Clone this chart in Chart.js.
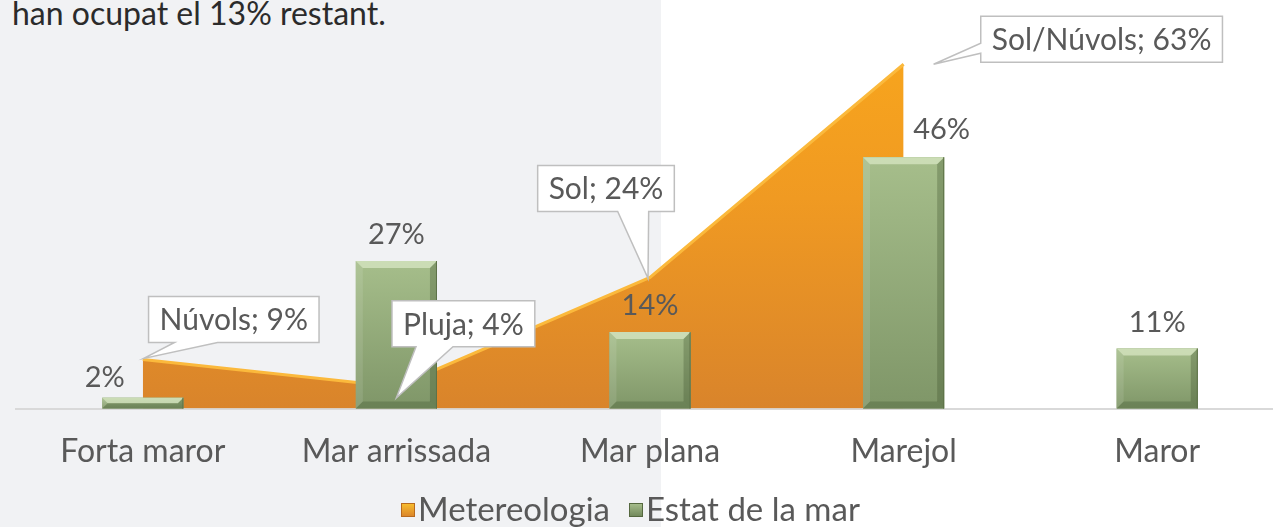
<!DOCTYPE html>
<html>
<head>
<meta charset="utf-8">
<script src="https://cdn.jsdelivr.net/npm/chart.js@4.4.1/dist/chart.umd.min.js"></script>
<style>
  body { margin: 0; width: 1273px; height: 527px; overflow: hidden; background: #fff; position: relative; font-family: Lato, sans-serif; }
  #bg { position: absolute; left: 0; top: 0; width: 661px; height: 527px; background: #f1f2f4; }
  #note { position: absolute; left: 12px; top: -3px; font-size: 32px; line-height: 32px; color: #2b2b2b; white-space: nowrap; }
  #wrap { position: absolute; left: 0; top: 0; width: 1300px; height: 527px; }
</style>
</head>
<body>
<div id="bg"></div>
<div id="note">han ocupat el 13% restant.</div>
<div id="wrap"><canvas id="chart"></canvas></div>
<script>
const categories = ['Forta maror', 'Mar arrissada', 'Mar plana', 'Marejol', 'Maror'];
const seriesNames = ['Metereologia', 'Estat de la mar'];
const weatherValues = [9, 4, 24, 63, null];
const weatherNames = ['Núvols', 'Pluja', 'Sol', 'Sol/Núvols', null];
const seaValues = [2, 27, 14, 46, 11];

const FONT = 'Lato, sans-serif';
const TEXT = '#595959';

// where each callout box sits relative to its point (pixels)
const callouts = [
  { dx: 91, dy: -40, side: 'bottom', b0: 26, b1: 69, tx: 1, ty: -1 },
  { dx: 67, dy: -63, side: 'bottom', b0: 24, b1: 61, tx: 0, ty: 11 },
  { dx: -44, dy: -89, side: 'bottom', b0: 80, b1: 111, tx: -2, ty: 1 },
  { dx: 198, dy: -25, side: 'left', b0: 27, b1: 37, tx: 30, ty: 0 },
];
// value label offsets for the bars
const barLabelPos = [
  { dx: -38, dy: -11 }, { dx: 0, dy: -17 }, { dx: 0, dy: -17 }, { dx: 38, dy: -18 }, { dx: 0, dy: -16 },
];
// legend item x positions
const legendX = [401, 629];

function areaFill(context) {
  const { chart } = context;
  const a = chart.chartArea;
  if (!a) return '#e8922a';
  const g = chart.ctx.createLinearGradient(0, a.top, 0, a.bottom);
  g.addColorStop(0, '#f9a71c');
  g.addColorStop(0.45, '#f09a22');
  g.addColorStop(1, '#d9842b');
  return g;
}

function calloutPath(ctx, l, t, w, h, c, tx, ty) {
  ctx.beginPath();
  ctx.moveTo(l, t);
  ctx.lineTo(l + w, t);
  ctx.lineTo(l + w, t + h);
  if (c.side === 'bottom') {
    ctx.lineTo(l + c.b1, t + h);
    ctx.lineTo(tx, ty);
    ctx.lineTo(l + c.b0, t + h);
  }
  ctx.lineTo(l, t + h);
  if (c.side === 'left') {
    ctx.lineTo(l, t + c.b1);
    ctx.lineTo(tx, ty);
    ctx.lineTo(l, t + c.b0);
  }
  ctx.closePath();
}

const decor = {
  id: 'decor',
  afterDatasetDraw(chart, args) {
    if (args.index !== 1) return;
    const ctx = chart.ctx;
    ctx.save();
    args.meta.data.forEach(bar => {
      const l = bar.x - bar.width / 2, r = bar.x + bar.width / 2;
      const t = bar.y, b = bar.base;
      const e = Math.min(7, (b - t) / 2);
      const g = ctx.createLinearGradient(0, t, 0, b);
      g.addColorStop(0, '#a6be8b');
      g.addColorStop(1, '#7f9668');
      ctx.fillStyle = g;
      ctx.fillRect(l, t, r - l, b - t);
      // bevel edges
      ctx.fillStyle = 'rgba(220,234,200,0.7)';
      ctx.beginPath(); ctx.moveTo(l, t); ctx.lineTo(r, t); ctx.lineTo(r - e, t + e); ctx.lineTo(l + e, t + e); ctx.fill();
      ctx.fillStyle = 'rgba(255,255,255,0.1)';
      ctx.beginPath(); ctx.moveTo(l, t); ctx.lineTo(l + e, t + e); ctx.lineTo(l + e, b - e); ctx.lineTo(l, b); ctx.fill();
      ctx.fillStyle = 'rgba(55,75,40,0.3)';
      ctx.beginPath(); ctx.moveTo(r, t); ctx.lineTo(r, b); ctx.lineTo(r - e, b - e); ctx.lineTo(r - e, t + e); ctx.fill();
      ctx.fillStyle = 'rgba(55,75,40,0.28)';
      ctx.beginPath(); ctx.moveTo(l, b); ctx.lineTo(r, b); ctx.lineTo(r - e, b - e); ctx.lineTo(l + e, b - e); ctx.fill();
      ctx.strokeStyle = '#5d7248';
      ctx.lineWidth = 1;
      ctx.beginPath(); ctx.moveTo(r - 0.5, t); ctx.lineTo(r - 0.5, b); ctx.stroke();
    });
    ctx.restore();
  },
  afterDatasetsDraw(chart) {
    const ctx = chart.ctx;
    ctx.save();
    ctx.fillStyle = TEXT;
    ctx.textAlign = 'center';
    ctx.textBaseline = 'alphabetic';
    // bar value labels
    ctx.font = '29px ' + FONT;
    chart.getDatasetMeta(1).data.forEach((bar, i) => {
      const p = barLabelPos[i];
      ctx.fillText(seaValues[i] + '%', bar.x + p.dx, bar.y + p.dy);
    });
    // callouts on the area
    ctx.font = '30px ' + FONT;
    chart.getDatasetMeta(0).data.forEach((pt, i) => {
      if (weatherValues[i] == null) return;
      const c = callouts[i];
      const txt = weatherNames[i] + '; ' + weatherValues[i] + '%';
      const w = ctx.measureText(txt).width + 22;
      const h = 46;
      const cx = pt.x + c.dx, cy = pt.y + c.dy;
      const l = cx - w / 2, t = cy - h / 2;
      calloutPath(ctx, l, t, w, h, c, pt.x + c.tx, pt.y + c.ty);
      ctx.fillStyle = '#fff';
      ctx.fill();
      ctx.strokeStyle = '#bfbfbf';
      ctx.lineWidth = 1.5;
      ctx.stroke();
      ctx.fillStyle = TEXT;
      ctx.fillText(txt, cx, cy + 11);
    });
    ctx.restore();
  },
  afterDraw(chart) {
    // legend
    const ctx = chart.ctx;
    ctx.save();
    ctx.font = '33px ' + FONT;
    ctx.textBaseline = 'alphabetic';
    ctx.textAlign = 'left';
    const boxes = [['#f9c02e', '#d9822a'], ['#a9c08e', '#6f8659']];
    seriesNames.forEach((s, i) => {
      const x = legendX[i];
      const g = ctx.createLinearGradient(0, 503, 0, 517);
      g.addColorStop(0, boxes[i][0]);
      g.addColorStop(1, boxes[i][1]);
      ctx.fillStyle = g;
      ctx.fillRect(x, 503, 14, 14);
      ctx.strokeStyle = i === 0 ? '#b86a1e' : '#55683f';
      ctx.lineWidth = 1;
      ctx.strokeRect(x + 0.5, 503.5, 13, 13);
      ctx.fillStyle = TEXT;
      ctx.fillText(s, x + 17, 521);
    });
    ctx.restore();
  }
};

new Chart(document.getElementById('chart'), {
  type: 'bar',
  data: {
    labels: categories,
    datasets: [
      {
        type: 'line',
        label: seriesNames[0],
        data: weatherValues,
        order: 2,
        fill: 'origin',
        backgroundColor: areaFill,
        borderColor: '#fbb93c',
        borderWidth: 3,
        pointRadius: 0,
        tension: 0,
      },
      {
        label: seriesNames[1],
        data: seaValues,
        order: 1,
        backgroundColor: '#94ab7b',
        categoryPercentage: 1,
        barPercentage: 0.32,
      }
    ]
  },
  options: {
    responsive: true,
    maintainAspectRatio: false,
    animation: false,
    layout: { padding: { left: 16, right: 16, top: 26, bottom: 32 } },
    plugins: { legend: { display: false }, tooltip: { enabled: false } },
    scales: {
      x: {
        grid: { display: false, drawTicks: false },
        border: { display: true, color: '#d9d9d9', width: 2 },
        ticks: { color: TEXT, font: { family: FONT, size: 32 }, padding: 24 },
      },
      y: {
        display: false,
        min: 0,
        max: 70,
      }
    }
  },
  plugins: [decor]
});
</script>
</body>
</html>
